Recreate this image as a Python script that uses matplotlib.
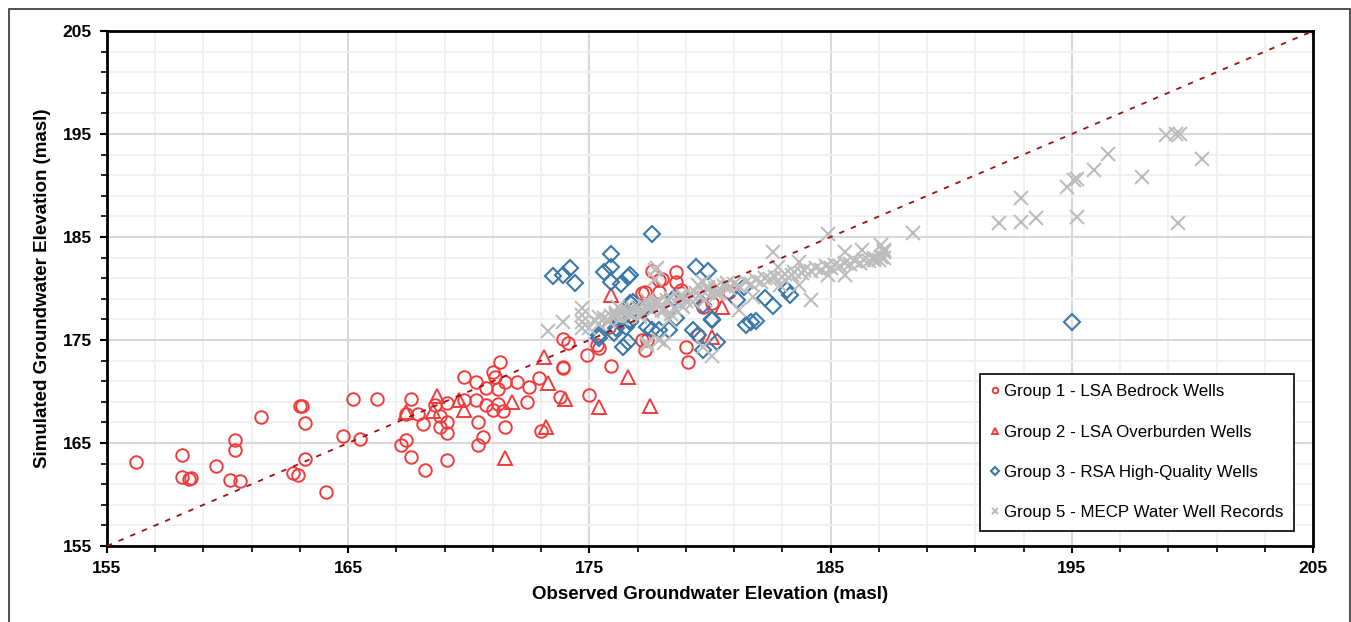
import numpy as np
import matplotlib.pyplot as plt
from matplotlib.patches import Rectangle
from matplotlib.ticker import MultipleLocator

plt.rcParams['font.family'] = ['Liberation Sans', 'DejaVu Sans']

# ------------------------------------------------------------
# DATA (observed, simulated)
# ------------------------------------------------------------
g1_obs = [156.2, 158.1, 158.1, 158.4, 158.5, 159.5, 160.3, 160.3, 160.1, 160.5,
          161.4, 162.7, 162.9, 163.0, 163.1, 163.2, 163.2, 164.1, 164.8, 165.2,
          165.5, 166.2, 167.2, 167.4, 167.4, 167.6, 167.6, 167.9, 168.1, 168.2,
          168.6, 168.8, 168.8, 169.1, 169.1, 169.1, 169.1, 169.8, 169.8, 170.3,
          170.3, 170.4, 170.4, 170.6, 170.7, 170.7, 171.0, 171.0, 171.1, 171.2,
          171.2, 171.3, 171.4, 171.5, 171.5, 172.0, 172.4, 172.5, 172.9, 173.0,
          173.8, 173.9, 175.0, 174.9, 177.6, 178.6, 178.0, 178.6, 177.3, 177.9,
          178.8, 175.8, 173.9, 174.1, 175.3, 175.4, 175.9, 173.9, 177.4, 177.3,
          179.0, 179.1, 179.5, 180.8, 177.9, 177.2, 178.8, 180.1, 179.7, 177.2]
g1_sim = [163.2, 163.8, 161.7, 161.5, 161.6, 162.8, 165.3, 164.3, 161.4, 161.3,
          167.5, 162.1, 161.9, 168.6, 168.6, 166.9, 163.4, 160.2, 165.7, 169.3,
          165.4, 169.3, 164.8, 165.3, 167.8, 169.3, 163.6, 167.8, 166.8, 162.4,
          168.7, 167.6, 166.6, 167.0, 166.0, 168.9, 163.3, 171.4, 169.2, 170.9,
          169.2, 167.0, 164.8, 165.6, 170.3, 168.7, 168.2, 171.9, 171.4, 170.2,
          168.8, 172.9, 168.1, 170.9, 166.6, 170.9, 169.0, 170.4, 171.3, 166.2,
          169.5, 172.3, 169.7, 173.5, 181.7, 181.6, 180.9, 180.6, 179.7, 179.7,
          179.9, 176.3, 175.1, 174.7, 174.5, 174.2, 172.5, 172.4, 175.0, 174.0,
          174.3, 172.9, 175.5, 179.7, 180.8, 179.6, 179.6, 178.6, 178.2, 175.0]

g2_obs = [173.1, 173.3, 173.2, 174.0, 168.7, 169.6, 169.8, 171.8, 168.5, 167.4,
          171.5, 175.4, 176.6, 177.5, 175.9, 180.1, 180.5]
g2_sim = [173.3, 170.8, 166.6, 169.3, 169.6, 169.2, 168.2, 169.0, 168.1, 168.0,
          163.5, 168.5, 171.4, 168.6, 179.4, 175.3, 178.2]

g3_obs = [177.6, 173.5, 173.9, 174.2, 174.4, 175.9, 175.6, 175.9, 175.9, 176.3,
          176.6, 176.7, 179.4, 179.9, 175.4, 175.4, 176.0, 176.4, 176.6, 177.6,
          179.5, 179.7, 180.3, 180.1, 179.7, 178.5, 176.7, 176.5, 178.3, 177.2,
          176.3, 176.7, 181.4, 181.1, 182.3, 182.6, 180.1, 181.5, 181.7, 181.9,
          183.2, 183.3, 195.0, 177.4, 177.9, 176.7, 176.8, 176.8, 178.6, 179.3,
          176.1]
g3_sim = [185.3, 181.2, 181.3, 182.0, 180.5, 183.3, 181.6, 182.1, 180.6, 180.4,
          181.1, 181.3, 182.1, 181.7, 175.2, 175.5, 175.7, 174.3, 174.8, 176.0,
          175.5, 174.0, 174.8, 176.9, 178.4, 179.1, 176.9, 176.3, 176.0, 177.9,
          176.9, 178.6, 180.1, 178.9, 179.1, 178.3, 177.0, 176.5, 176.7, 176.8,
          179.9, 179.4, 176.7, 176.3, 176.0, 176.7, 177.9, 178.7, 177.1, 176.0,
          176.2]

g5_obs = [173.3, 173.9, 174.7, 174.7, 175.4, 174.7, 177.7, 177.1, 178.1, 179.7,
          178.3, 177.4, 180.4, 178.9, 179.7, 180.1, 176.3, 176.7, 177.9, 177.4,
          180.3, 180.7, 184.9, 182.6, 182.8, 183.7, 185.6, 186.3, 187.1, 187.2,
          186.8, 185.6, 184.2, 181.8, 181.2, 182.9, 183.7, 184.9,
          175.2, 175.6, 175.9, 176.1, 176.4, 176.6, 176.8, 177.0, 177.3, 177.5,
          177.7, 177.9, 178.2, 178.4, 178.7, 178.9, 179.2, 179.4, 179.7, 179.9,
          180.2,
          180.6, 181.0, 181.5, 181.9, 182.3, 182.7, 183.1, 183.5, 183.9, 184.4,
          184.8, 185.2, 185.6, 186.0, 186.4, 186.8, 187.1,
          175.4, 175.8, 176.3, 176.7, 177.1, 177.6, 178.0, 178.5, 178.8, 179.3,
          179.8, 180.3, 180.8, 181.2, 181.7, 182.1, 182.5, 183.0, 183.4, 183.8,
          184.2, 184.6, 185.0, 185.4, 185.8, 186.2, 186.6, 187.0,
          177.8, 177.7, 174.7, 175.0, 176.1, 176.2, 176.1, 177.8, 178.1, 178.4,
          179.0, 179.5, 179.9, 180.3, 177.9, 177.4,
          188.4, 187.2, 187.2, 192.0, 192.9, 192.9, 193.5, 194.8, 195.1, 195.2,
          195.2, 195.9, 196.5, 197.9, 200.4, 199.4, 198.9, 199.3, 199.5]
g5_sim = [175.9, 176.7, 178.1, 177.4, 177.2, 176.2, 181.8, 177.2, 174.7, 180.6,
          176.9, 174.7, 179.6, 178.2, 174.3, 173.4, 177.9, 177.6, 178.2, 178.9,
          180.2, 180.5, 185.3, 183.5, 182.1, 182.6, 183.5, 183.7, 184.2, 183.5,
          182.8, 181.3, 178.9, 179.2, 177.9, 180.3, 180.3, 181.3,
          176.9, 177.1, 177.3, 177.5, 177.7, 177.8, 178.0, 178.1, 178.3, 178.4,
          178.6, 178.7, 178.9, 179.1, 179.2, 179.3, 179.5, 179.6, 179.8, 179.9,
          180.0,
          180.2, 180.4, 180.6, 180.8, 181.0, 181.1, 181.4, 181.6, 181.8, 182.0,
          182.2, 182.3, 182.5, 182.7, 182.8, 183.0, 183.1,
          176.6, 176.8, 177.1, 177.3, 177.5, 177.8, 177.9, 178.1, 178.4, 178.7,
          178.9, 179.8, 180.0, 180.2, 180.4, 180.6, 180.9, 181.1, 181.3, 181.5,
          181.7, 181.8, 182.0, 182.2, 182.4, 182.5, 182.7, 182.8,
          182.0, 180.9, 176.7, 176.2, 177.3, 178.2, 177.6, 178.6, 177.9, 177.5,
          178.8, 180.3, 180.1, 179.5, 175.0, 174.5,
          185.4, 183.7, 183.0, 186.4, 188.8, 186.5, 186.8, 189.9, 190.5, 190.6,
          186.9, 191.5, 193.1, 190.8, 192.6, 186.4, 194.9, 195.0, 195.0]

labels = ["Group 1 - LSA Bedrock Wells",
          "Group 2 - LSA Overburden Wells",
          "Group 3 - RSA High-Quality Wells",
          "Group 5 - MECP Water Well Records"]

lims = [155, 205]

# ------------------------------------------------------------
# PLOT
# ------------------------------------------------------------
fig = plt.figure(figsize=(13.51, 6.22), dpi=100)
ax = fig.add_axes([0.0792, 0.1222, 0.8927, 0.8280])

red = '#F03C3C'
blue = '#3A78A8'
gray = '#BDBDBD'

ax.plot(g1_obs, g1_sim, 'o', ms=9, mfc='none', mec=red, mew=1.4,
        label=labels[0], zorder=3)
ax.plot(g2_obs, g2_sim, '^', ms=9.5, mfc='none', mec=red, mew=1.4,
        label=labels[1], zorder=3)
ax.plot(g3_obs, g3_sim, 'D', ms=8, mfc='none', mec=blue, mew=1.5,
        label=labels[2], zorder=4)
ax.plot(g5_obs, g5_sim, 'x', ms=10, mec=gray, mew=1.5,
        label=labels[3], zorder=5)

ax.plot(lims, lims, ls=(0, (3, 4)), color='#A01010', lw=1.3, zorder=6)

ax.set_xlim(lims)
ax.set_ylim(lims)
ax.xaxis.set_major_locator(MultipleLocator(10, offset=5))
ax.yaxis.set_major_locator(MultipleLocator(10, offset=5))
ax.xaxis.set_minor_locator(MultipleLocator(2, offset=1))
ax.yaxis.set_minor_locator(MultipleLocator(2, offset=1))
ax.grid(which='major', color='#D9D9D9', lw=1.5, zorder=0)
ax.grid(which='minor', color='#F0F0F0', lw=1.3, zorder=0)
ax.set_axisbelow(True)

ax.tick_params(which='major', direction='out', length=5, width=1.5,
               labelsize=12.5, pad=6)
ax.tick_params(which='minor', direction='out', length=4, width=1.2)
for lab in ax.get_xticklabels() + ax.get_yticklabels():
    lab.set_fontweight('bold')
for sp in ax.spines.values():
    sp.set_linewidth(2)
    sp.set_color('black')

ax.set_xlabel("Observed Groundwater Elevation (masl)", fontsize=13.5,
              fontweight='bold', labelpad=7)
ax.set_ylabel("Simulated Groundwater Elevation (masl)", fontsize=13.5,
              fontweight='bold', labelpad=8)

leg = ax.legend(loc='lower right', bbox_to_anchor=(0.984, 0.03),
                borderaxespad=0, fancybox=False, edgecolor='black',
                framealpha=1, fontsize=12.2, markerscale=0.45,
                labelspacing=1.5, handlelength=0.6, handletextpad=0.25,
                borderpad=0.6)
leg.get_frame().set_linewidth(1.2)

# outer frame around the figure
fig.patches.append(Rectangle((0.0067, -0.01), 0.9926, 0.9955,
                             transform=fig.transFigure, fill=False,
                             edgecolor='#333333', lw=1.2))

fig.savefig("out.png", dpi=100)
